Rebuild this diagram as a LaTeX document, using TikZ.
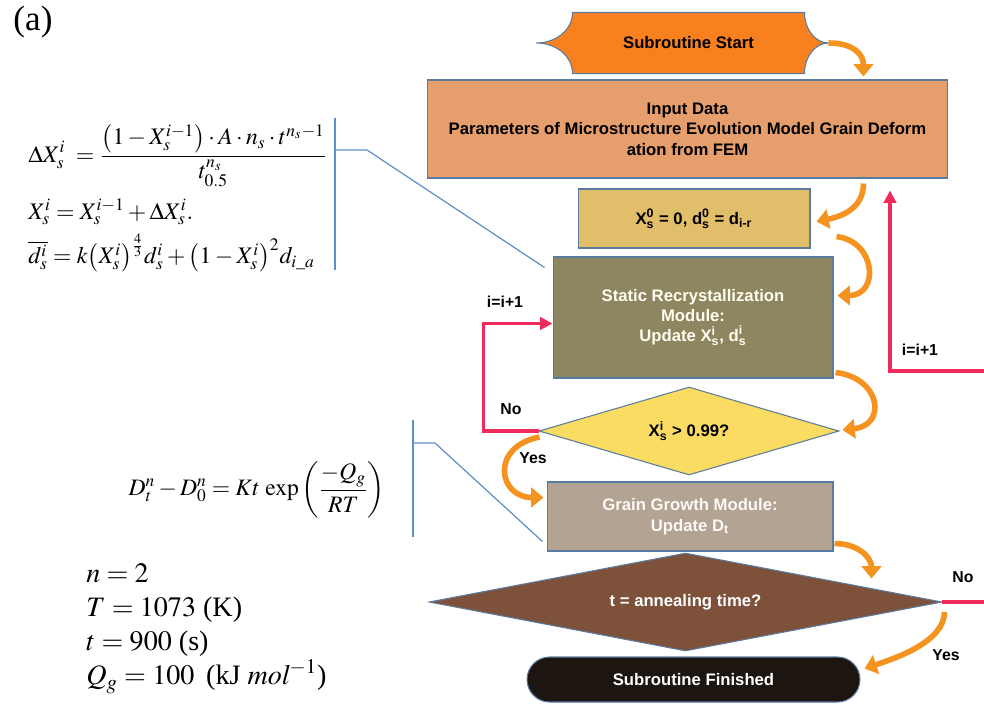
\documentclass[tikz,border=0pt]{standalone}
\usepackage{amsmath}
\usepackage{mathptmx}
\usepackage{fontspec}
\setmainfont{Liberation Serif}
\setsansfont{Liberation Sans}
\usepackage{xcolor}
\usetikzlibrary{calc,positioning,shapes.geometric,arrows.meta}

\definecolor{edgeblue}{HTML}{5A7BA0}
\definecolor{startfill}{HTML}{F8801E}
\definecolor{inputfill}{HTML}{E69E6C}
\definecolor{initfill}{HTML}{E0BE6A}
\definecolor{srxfill}{HTML}{8E8660}
\definecolor{checkfill}{HTML}{FBDC63}
\definecolor{growfill}{HTML}{B2A393}
\definecolor{timefill}{HTML}{7E523A}
\definecolor{endfill}{HTML}{1C1510}
\definecolor{loopred}{HTML}{EE2B5C}
\definecolor{flowor}{HTML}{F4931F}
\definecolor{callblue}{HTML}{5E8FC6}

\newcommand{\subsup}[3]{$\text{#1}_{\text{#2}}^{\text{#3}}$}

\begin{document}
\begin{tikzpicture}[
    x=0.02cm, y=-0.02cm,
    box/.style={rectangle, draw=edgeblue, line width=0.6pt, align=center, inner sep=2pt, font=\sffamily\bfseries\fontsize{9.5}{11.6}\selectfont},
    decision/.style={diamond, draw=edgeblue, line width=0.6pt, align=center, inner sep=0pt, font=\sffamily\bfseries\fontsize{9.5}{11.6}\selectfont},
    lbl/.style={font=\sffamily\bfseries\fontsize{9}{11}\selectfont, inner sep=1pt},
    flow/.style={draw=flowor, line width=3.2pt, -{Triangle[length=7pt,width=11pt]}},
    redarrow/.style={draw=loopred, line width=1.8pt, -{Triangle[length=7pt,width=7pt]}},
    callout/.style={draw=callblue, line width=0.7pt}
]
    \useasboundingbox (0,0) rectangle (984,704);

    \node[font=\fontsize{20}{24}\selectfont] (tag) at (33,22) {(a)};

    % flow chart
    \node[box, draw=none, minimum width=4.62cm, minimum height=1.2cm] (start) at (688.5,43) {};
    \draw[fill=startfill, draw=edgeblue, line width=0.6pt] (start.north west) -- (start.north east)
        .. controls +(0,17) and +(-13,0) .. ($(start.east)+(24,0)$) coordinate (starttip)
        .. controls +(-13,0) and +(0,-17) .. (start.south east) -- (start.south west)
        .. controls +(0,-17) and +(20,0) .. ($(start.west)+(-36,0)$)
        .. controls +(20,0) and +(0,17) .. cycle;
    \node[lbl, font=\sffamily\bfseries\fontsize{9.5}{11.6}\selectfont] at (start) {Subroutine Start};

    \node[box, fill=inputfill, minimum width=10.42cm, minimum height=1.96cm] (input) at (687.5,129)
        {Input Data\\Parameters of Microstructure Evolution Model Grain Deform\\ation from FEM};
    \node[box, fill=initfill, minimum width=4.64cm, minimum height=1.18cm] (init) at (694,218.5)
        {\subsup{X}{s}{0} = 0, \subsup{d}{s}{0} = d\textsubscript{i-r}};
    \node[box, fill=srxfill, text=white!94!yellow, minimum width=5.6cm, minimum height=2.42cm] (srx) at (693,317.5)
        {Static Recrystallization\\Module:\\Update \subsup{X}{s}{i}, \subsup{d}{s}{i}};
    \node[decision, fill=checkfill, shape aspect=3.4, minimum width=6cm, minimum height=1.76cm] (check) at (689,431)
        {\subsup{X}{s}{i} > 0.99?};
    \node[box, fill=growfill, text=white!95!brown, minimum width=5.72cm, minimum height=1.38cm] (grow) at (690,516.5)
        {Grain Growth Module:\\Update D\textsubscript{t}};
    \node[decision, fill=timefill, text=white, shape aspect=5.2, minimum width=10.26cm, minimum height=1.96cm] (time) at (685.5,602)
        {t = annealing time?};
    \node[box, fill=endfill, text=white, rounded corners=0.45cm, minimum width=6.66cm, minimum height=0.9cm] (finish) at (693.5,679.5)
        {Subroutine Finished};

    \draw[flow] (starttip) .. controls +(25,0) and +(0,-22) .. ($(input.north east)+(-85,-3)$);
    \draw[flow] ($(input.south east)+(-85,5)$) .. controls +(0,25) and +(25,-5) .. ($(init.east)+(6,3)$);
    \draw[flow] ($(init.south east)+(26,-12)$) .. controls +(40,5) and +(42,0) .. ($(srx.east)+(4,-22)$);
    \draw[flow] ($(srx.south east)+(2,-6)$) .. controls +(45,5) and +(45,-5) .. ($(check.east)+(3,-1)$);
    \draw[flow] ($(check.west)+(1,6)$) .. controls +(-50,10) and +(-45,0) .. ($(grow.west)+(-3,-19)$);
    \draw[flow] ($(grow.south east)+(1,-8)$) .. controls +(25,0) and +(0,-20) .. ($(grow.south east)+(38,27)$);
    \draw[flow] ($(time.east)+(2,10)$) .. controls +(0,30) and +(30,-10) .. ($(finish.east)+(4,-11)$);

    % loops
    \draw[redarrow] (check.west) -- ++(-55,0) |- ($(srx.west)+(0,6)$);
    \coordinate (backup) at (890,371);
    \draw[redarrow] (time.east) -- ++(70,0) |- (backup) -- ($(backup |- input.south)+(0,12)$);

    \node[lbl] (incA) at (505,302) {i=i+1};
    \node[lbl] (noA) at (511,409) {No};
    \node[lbl] (yesA) at (533,458) {Yes};
    \node[lbl] (incB) at (920,350) {i=i+1};
    \node[lbl] (noB) at (963,577) {No};
    \node[lbl] (yesB) at (946,655) {Yes};

    % equations
    \node[anchor=north west, align=left, inner sep=0pt, font=\fontsize{13.5}{16}\selectfont] (eqsrx) at (28,124)
        {$\displaystyle \Delta X_s^i\; = \frac{\left(1 - X_s^{i-1}\right)\cdot A\cdot n_s\cdot t^{n_s-1}}{t_{0.5}^{n_s}}$\\[6pt]
         $X_s^i = X_s^{i-1} + \Delta X_s^i.$\\[4pt]
         $\overline{d_s^i} = k\big(X_s^i\big)^{\frac{4}{3}}d_s^i + \big(1 - X_s^i\big)^2 d_{i\_a}$};
    \node[font=\fontsize{13.4}{16}\selectfont, inner sep=0pt] (eqgrow) at (257,490)
        {$\displaystyle D_t^n - D_0^n = Kt\,\exp\left(\frac{-Q_g}{RT}\right)$};
    \node[anchor=north west, align=left, inner sep=0pt, font=\fontsize{16}{19.5}\selectfont] (params) at (86,563)
        {$n = 2$\\ $T = 1073$ (K)\\ $t = 900$ (s)\\ $Q_g = 100$ \,(kJ $\mathit{mol}^{-1}$)};

    \draw[callout] (335,118) -- (335,270);
    \draw[callout] (335,150) -- (367,150) -- ($(srx.north west)+(-8,11)$);
    \draw[callout] (413,420) -- (413,537);
    \draw[callout] (413,443) -- (435,443) -- ($(grow.south west)+(-4,-10)$);
\end{tikzpicture}
\end{document}
